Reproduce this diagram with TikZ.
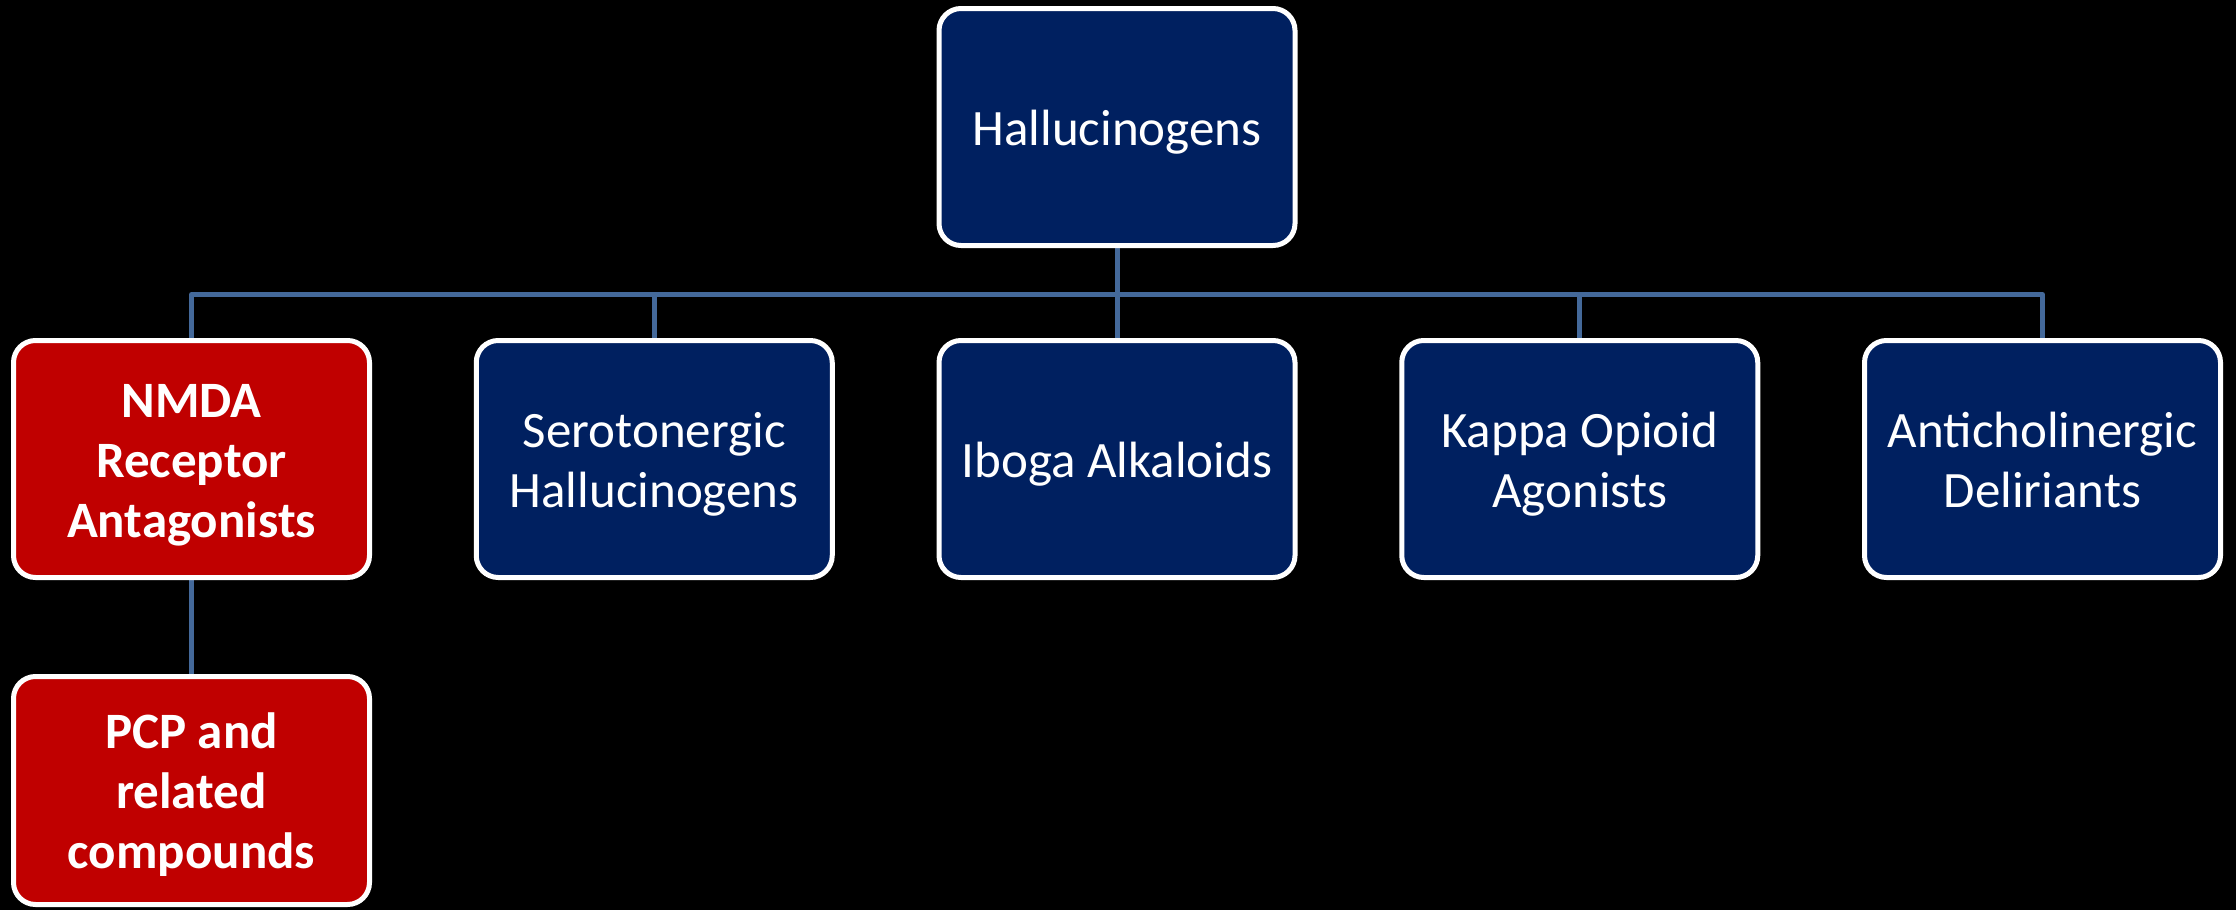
\documentclass[tikz,border=0pt]{standalone}
\usepackage{fontspec}
\setmainfont{Carlito}
\definecolor{boxblue}{RGB}{0,32,96}
\definecolor{boxred}{RGB}{192,0,0}
\definecolor{linkblue}{RGB}{68,105,154}
\pgfdeclarelayer{back}
\pgfdeclarelayer{background}
\pgfsetlayers{back,background,main}
\newcommand\boxlines[1]{\raisebox{-6pt}[\height][\depth]{\begin{tabular}{@{}c@{}}#1\end{tabular}}}
\begin{document}
\begin{tikzpicture}[x=1pt,y=-1pt,
  catbox/.style={rectangle, rounded corners=22pt, draw=white, line width=5pt,
    minimum width=356pt, minimum height=237pt, inner sep=0pt,
    text=white, font=\fontsize{51}{60}\selectfont},
  bluebox/.style={catbox, fill=boxblue},
  redbox/.style={catbox, fill=boxred, font=\fontsize{51}{60}\selectfont\bfseries},
  conn/.style={draw=linkblue, line width=5pt, line join=round}]
\begin{pgfonlayer}{back}
\fill[black] (0,0) rectangle (2236,910);
\end{pgfonlayer}
\useasboundingbox (0,0) rectangle (2236,910);
\node[bluebox] (top) at (1117,127) {\boxlines{Hallucinogens}};
\node[redbox] (n1) at (191.5,459) {\boxlines{NMDA\\Receptor\\Antagonists}};
\node[bluebox] (n2) at (654.25,459) {\boxlines{Serotonergic\\Hallucinogens}};
\node[bluebox] (n3) at (1117,459) {\boxlines{Iboga Alkaloids}};
\node[bluebox] (n4) at (1579.75,459) {\boxlines{Kappa Opioid\\Agonists}};
\node[bluebox] (n5) at (2042.5,459) {\boxlines{Anticholinergic\\Deliriants}};
\node[redbox, minimum height=228pt] (pcp) at (191.5,790.5) {\boxlines{PCP and\\related\\compounds}};
\coordinate (bus) at (1117,294.5);
\begin{pgfonlayer}{background}
\draw[conn] (top.south) -- (n3.north);
\draw[conn] (n1.north) -- (n1.north |- bus) -| (n5.north);
\draw[conn] (n2.north) -- (n2.north |- bus);
\draw[conn] (n4.north) -- (n4.north |- bus);
\draw[conn] (n1.south) -- (pcp.north);
\end{pgfonlayer}
\end{tikzpicture}
\end{document}
